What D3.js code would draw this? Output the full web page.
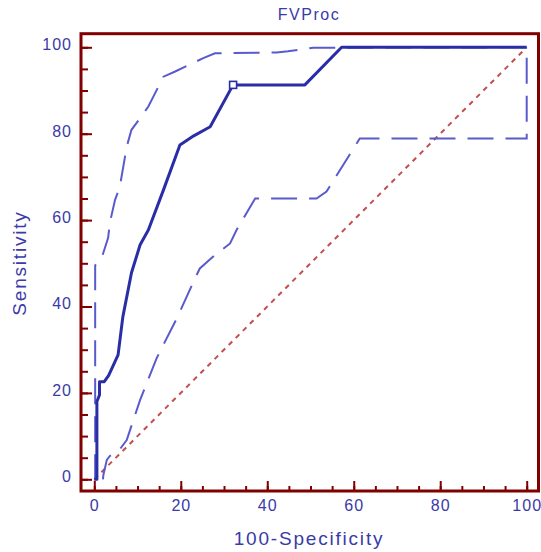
<!DOCTYPE html>
<html>
<head>
<meta charset="utf-8">
<script src="https://cdn.jsdelivr.net/npm/d3@7"></script>
<style>
  html, body { margin: 0; padding: 0; background: #ffffff; }
  svg { display: block; }
  text { font-family: "Liberation Sans", Arial, sans-serif; fill: #3a3aa8; }
</style>
</head>
<body>
<svg id="chart" width="541" height="552"></svg>
<script>
// ---- data ----
const title = "FVProc";
const xTitle = "100-Specificity";
const yTitle = "Sensitivity";
const majorTicks = [0, 20, 40, 60, 80, 100];
const minorTicks = [0, 5, 10, 15, 20, 25, 30, 35, 40, 45, 50, 55, 60, 65, 70, 75, 80, 85, 90, 95, 100];

// ROC curve: 100-specificity, sensitivity
const rocX = [0, 0.6, 0.6, 1.2, 1.2, 2.3, 3.3, 5.5, 6.6, 8.6, 10.6, 12.5, 16, 19.8, 23, 26.8, 32.1, 48.7, 57.2, 100];
const rocY = [0, 0, 18, 19.5, 22.6, 22.6, 24, 28.8, 37.6, 47.8, 54.3, 57.7, 67, 77.4, 79.5, 81.6, 91.3, 91.3, 100, 100];

// upper confidence bound
const upX = [0, 0.2, 0.2, 0.9, 1.7, 3.2, 3.6, 4.8, 5.9, 7.5, 8.6, 10.6, 12.5, 16, 18.7, 25.2, 27.9, 42.2, 44.8, 50.6, 100];
const upY = [0, 0, 49.5, 50.4, 51.2, 55.9, 59.4, 64.7, 67.7, 77, 80.9, 83.6, 86.3, 93.2, 94.4, 97.5, 98.6, 98.8, 99.1, 99.9, 100];

// lower confidence bound
const loX = [2, 2.1, 2.9, 3.6, 5.5, 7.5, 10.6, 14.4, 19.1, 23.3, 24.4, 27.9, 31.4, 32.9, 37.2, 51.4, 53.7, 61.4, 100, 100];
const loY = [0, 1.0, 4.5, 5.4, 6.4, 9.1, 18.4, 28, 37.3, 46.5, 48.8, 51.9, 54.6, 57.7, 65, 65, 66.6, 78.9, 78.9, 100];

// reference diagonal
const diagX = [0, 100];
const diagY = [0, 100];

// criterion point
const pointX = [32.1];
const pointY = [91.3];

// ---- drawing ----
const svg = d3.select("#chart");
const frame = { left: 81, top: 33.7, right: 538.5, bottom: 491 };

const x = d3.scaleLinear().domain([0, 100]).range([94.3, 526.7]);
const y = d3.scaleLinear().domain([0, 100]).range([479.3, 47.3]);

const frameColor = "#800000";
const textColor = "#3a3aa8";

// title
svg.append("text")
  .attr("x", 309).attr("y", 20)
  .attr("text-anchor", "middle")
  .style("font-size", "16px").style("letter-spacing", "1.5px")
  .text(title);

// reference diagonal
const mk = (xs, ys) => xs.map((v, i) => [v, ys[i]]);
const line = d3.line().x(d => x(d[0])).y(d => y(d[1]));

svg.append("path")
  .attr("d", line(mk(diagX, diagY)))
  .attr("fill", "none")
  .attr("stroke", "#c0504d")
  .attr("stroke-width", 2)
  .attr("stroke-dasharray", "5,5");

// confidence bounds
[[upX, upY], [loX, loY]].forEach(([xs, ys]) => {
  svg.append("path")
    .attr("d", line(mk(xs, ys)))
    .attr("fill", "none")
    .attr("stroke", "#5a5acc")
    .attr("stroke-width", 2)
    .attr("stroke-dasharray", "26,12");
});

// ROC curve
svg.append("path")
  .attr("d", line(mk(rocX, rocY)))
  .attr("fill", "none")
  .attr("stroke", "#2a2ea6")
  .attr("stroke-width", 3)
  .attr("stroke-linejoin", "round");

// criterion marker
svg.selectAll("rect.pt")
  .data(mk(pointX, pointY))
  .enter().append("rect")
  .attr("class", "pt")
  .attr("x", d => x(d[0]) - 3.5)
  .attr("y", d => y(d[1]) - 3.5)
  .attr("width", 7).attr("height", 7)
  .attr("fill", "#ffffff")
  .attr("stroke", "#2a2ea6")
  .attr("stroke-width", 1.6);

// axes: bottom
const gxMinor = svg.append("g").attr("transform", `translate(0,${frame.bottom})`)
  .call(d3.axisBottom(x).tickValues(minorTicks).tickSize(-5).tickFormat(""));
const gx = svg.append("g").attr("transform", `translate(0,${frame.bottom})`)
  .call(d3.axisBottom(x).tickValues(majorTicks).tickSize(-10).tickPadding(9).tickFormat(d3.format("d")));

// axes: left
const gyMinor = svg.append("g").attr("transform", `translate(${frame.left},0)`)
  .call(d3.axisLeft(y).tickValues(minorTicks).tickSize(-7).tickFormat(""));
const gy = svg.append("g").attr("transform", `translate(${frame.left},0)`)
  .call(d3.axisLeft(y).tickValues(majorTicks).tickSize(-11).tickPadding(9).tickFormat(d3.format("d")));

[gxMinor, gx, gyMinor, gy].forEach(g => {
  g.select(".domain").remove();
  g.selectAll(".tick line").attr("stroke", frameColor).attr("stroke-width", 2);
  g.selectAll("text")
    .attr("fill", textColor)
    .style("font-family", '"Liberation Sans", Arial, sans-serif')
    .style("font-size", "16px")
    .style("letter-spacing", "1px");
});
gy.selectAll("text").attr("dy", "0.15em");

// frame
svg.append("rect")
  .attr("x", frame.left).attr("y", frame.top)
  .attr("width", frame.right - frame.left)
  .attr("height", frame.bottom - frame.top)
  .attr("fill", "none")
  .attr("stroke", frameColor)
  .attr("stroke-width", 3);

// axis titles
svg.append("text")
  .attr("x", 309).attr("y", 545)
  .attr("text-anchor", "middle")
  .style("font-size", "19px").style("letter-spacing", "1.8px")
  .text(xTitle);

svg.append("text")
  .attr("transform", "translate(26,263) rotate(-90)")
  .attr("text-anchor", "middle")
  .style("font-size", "19px").style("letter-spacing", "1.8px")
  .text(yTitle);
</script>
</body>
</html>
